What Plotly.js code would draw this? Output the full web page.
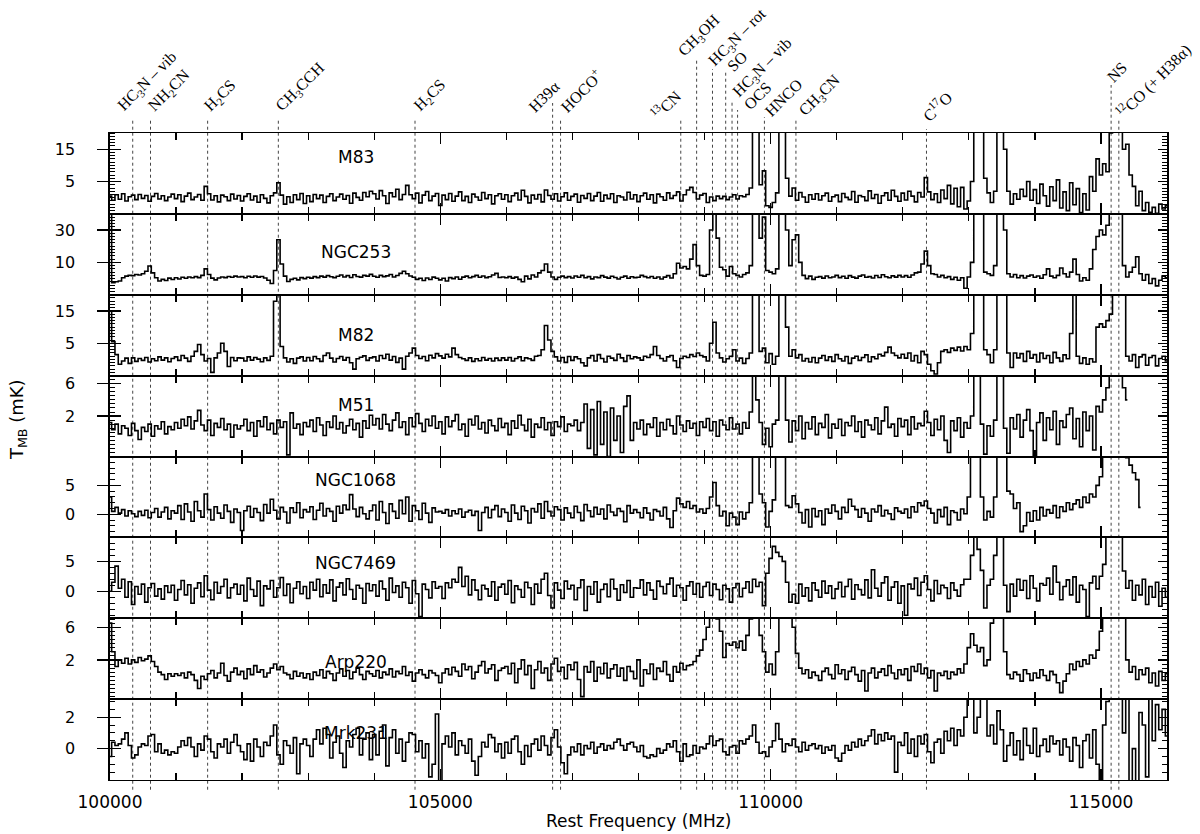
<!DOCTYPE html>
<html><head><meta charset="utf-8">
<script src="https://cdn.plot.ly/plotly-3.0.1.min.js"></script>
<style>html,body{margin:0;padding:0;background:#fff}#chart{width:1200px;height:834px}</style>
</head><body><div id="chart"></div>
<script>
// Channel grid: 100000 MHz start, 50 MHz channels
const freqStart = 100000;
const chanWidth = 50;

const m83 = [
0.5,-0.8,0.9,-0.5,1.2,-1.0,0.3,0.8,-0.6,1.0,-0.2,0.7,-1.1,0.4,1.3,-0.4,0.6,-0.9,0.2,1.1,
-0.3,0.9,-1.2,0.5,1.4,-0.6,0.2,1.0,-0.8,3.5,1.2,-0.7,0.6,-1.3,0.8,0.3,-0.9,1.1,-0.4,0.7,
-1.0,0.4,1.2,-0.7,0.5,-1.4,0.9,-0.2,-1.6,0.6,1.5,4.6,0.8,-2.0,0.3,-1.5,0.9,-0.6,1.3,-1.8,
0.6,-1.2,1.0,-0.3,0.8,-1.5,0.4,1.2,-0.9,0.2,1.1,-0.5,0.7,-1.7,1.4,0.1,-0.8,1.6,0.3,2.0,
1.2,-0.4,2.2,0.6,-1.8,1.5,0.3,2.6,-0.6,1.0,3.8,0.9,-0.3,1.4,-1.6,0.8,1.9,-0.9,0.5,1.3,
-2.4,0.8,-0.6,1.3,-1.1,0.5,1.8,-0.9,0.4,-1.5,1.1,0.2,-0.8,1.6,-0.3,0.9,-1.9,0.6,1.2,-0.5,
0.9,-1.2,0.6,1.4,-0.7,2.3,0.4,-1.6,0.8,-0.4,1.0,-1.3,2.4,0.7,-0.5,1.2,-1.0,0.3,1.5,-0.8,
0.4,1.1,-1.4,0.7,-0.2,1.3,-0.9,0.5,1.6,-1.1,0.8,-0.3,1.2,-1.5,0.6,0.2,-0.7,1.7,-0.4,0.9,
-1.2,0.6,1.4,-0.5,0.9,-1.6,1.1,0.3,-0.8,1.5,-0.2,0.7,1.8,-1.0,0.9,2.4,3.2,1.6,-0.4,0.8,
1.3,-1.5,0.2,-0.9,0.5,-0.3,0.4,-0.6,0.2,0.9,-0.4,0.6,0.3,1.0,3.0,25,30,4.0,8.3,-2.5,
-3.0,-1.5,1.5,22,35,6.0,0.5,3.0,-0.8,1.6,0.2,-1.4,0.9,-0.5,1.2,-0.7,0.6,1.4,-1.1,0.3,
0.8,-1.2,1.3,0.1,-0.6,1.9,-1.4,0.7,0.3,-0.9,2.1,-0.2,1.0,-1.7,0.6,1.5,-0.8,2.3,0.4,-1.1,
1.4,-0.7,2.0,0.5,-1.3,1.6,0.2,6.2,1.8,-0.6,1.2,-1.5,2.4,-0.3,3.8,-1.9,2.9,-2.8,3.2,-3.5,
-1.0,5.0,28,40,30,6.0,1.5,-1.5,2.0,22,40,15,2.0,-2.0,1.2,-0.5,2.6,0.4,5.0,-0.8,
2.5,-1.8,4.2,0.6,-2.6,3.4,-0.9,5.5,-3.2,1.8,-4.0,4.6,-2.2,2.8,-4.6,1.2,-3.8,6.5,2.0,12.0,
7.0,10.5,8.0,20,40,60,40,15,16.5,7.0,3.5,-2.5,2.0,-4.0,-1.5,-4.5,-3.0,-4.8,-2.0,-3.5,
-2.5];

const ngc253 = [
45,-2.5,-2.0,-1.5,0.5,1.5,2.0,1.8,2.5,2.2,3.0,4.5,7.8,3.5,0.5,-1.5,-0.5,-1.2,0.3,-0.6,
0.5,-0.3,0.8,0.2,1.0,0.5,1.2,0.6,2.0,6.0,2.5,0.3,-0.8,0.4,1.0,0.6,1.3,0.8,1.5,1.0,
1.2,0.5,1.4,0.8,1.6,0.9,1.3,0.4,-1.0,-3.0,5.0,24.0,9.0,1.5,-1.8,-0.5,0.2,-0.8,0.6,0.0,
0.8,0.3,1.2,0.6,1.5,0.9,1.8,1.1,0.6,1.4,2.2,1.0,1.8,0.7,2.4,1.3,0.9,2.0,1.5,2.6,
1.4,0.8,2.0,1.2,1.7,2.5,1.0,1.9,3.2,4.5,3.0,1.6,0.8,-0.5,0.2,-1.2,0.4,-0.6,0.9,0.2,
-0.8,0.2,-1.5,0.6,0.0,1.0,-0.4,0.9,1.5,0.5,1.2,2.0,0.8,1.6,0.6,1.1,2.2,3.2,0.7,1.0,
0.5,1.2,0.3,0.9,-0.5,-2.0,1.5,-0.2,2.2,1.0,3.5,5.0,9.0,4.0,1.0,-0.5,0.8,1.5,0.6,1.2,
0.4,1.6,0.8,2.0,0.5,1.2,-0.2,1.0,0.6,1.8,0.9,0.3,1.4,0.7,-0.3,0.8,1.5,0.2,1.1,0.6,
0.8,2.0,1.2,0.5,1.3,0.2,1.0,-0.3,0.9,1.8,0.4,3.0,9.5,6.5,7.5,6.0,12.0,21.0,8.0,2.0,
1.5,2.5,30,48,25,7.0,5.5,1.5,7.5,3.0,2.0,1.0,2.5,3.5,8.0,45,50,25,38,5.0,
4.0,3.0,6.0,45,60,30,8.0,24,27,10,2.0,0.0,1.5,-0.5,0.8,1.2,0.3,1.6,0.5,1.0,
2.0,0.6,1.4,0.2,1.8,0.9,0.3,1.5,2.2,0.8,1.2,0.4,1.9,0.7,2.4,1.1,0.5,1.7,0.9,2.0,
1.0,1.8,0.8,2.2,3.5,4.0,9.0,17.0,8.0,3.0,2.5,1.0,2.0,0.5,1.2,-0.5,0.8,-1.0,0.5,-6.0,
1.0,10,45,55,40,4.0,3.0,2.0,8.0,45,55,30,3.0,1.0,2.5,0.5,1.8,0.4,1.5,2.2,
0.8,1.6,0.2,2.4,6.0,1.5,0.5,2.0,6.5,3.0,1.0,4.0,12.0,2.5,-1.5,0.5,-1.0,6.0,18.0,26.0,
30,27,33,45,60,80,60,8.0,1.0,4.0,7.0,13.5,3.0,-1.0,2.5,-3.0,0.0,-4.5,-1.0,1.5,
0.5];

const m82 = [
15,5.5,1.5,-1.5,-0.5,0.4,-1.2,0.5,-0.6,0.3,-0.3,0.6,-0.8,0.2,-0.4,0.8,-0.2,0.5,-0.7,0.3,
0.8,-0.3,1.2,0.4,-0.6,1.0,2.5,4.6,1.5,-0.5,0.3,-4.0,0.5,2.0,5.0,2.5,-2.2,0.6,-0.4,0.5,
0.4,-0.5,0.8,-0.2,0.6,0.1,-0.7,0.5,-0.3,1.0,18.0,21.0,4.0,0.5,-0.8,0.2,-1.2,0.4,0.8,-0.5,
0.6,-0.4,0.9,0.2,-0.6,1.2,2.0,0.4,-0.8,0.3,0.9,-0.2,0.6,-1.0,-3.0,0.2,0.7,1.1,-0.3,0.5,
0.8,-0.5,1.2,0.3,1.6,-0.2,0.9,-0.9,0.4,-3.0,1.0,2.0,3.5,1.2,0.3,0.9,-0.4,1.3,0.5,1.8,
1.1,0.4,1.6,0.8,3.5,1.5,0.6,0.2,-0.3,0.5,-0.6,0.2,-0.4,0.6,-0.2,0.3,-0.5,0.4,-0.3,0.5,
-0.2,0.6,-0.5,0.3,0.8,-0.4,0.5,0.2,-0.3,1.0,1.2,3.0,10.5,6.0,2.5,0.8,-0.5,0.6,-0.9,0.9,
-0.3,0.8,0.2,-1.0,-2.0,0.5,1.2,-0.5,1.5,0.3,-0.8,1.0,0.4,-0.3,1.6,0.5,-0.6,1.2,0.2,0.8,
0.5,-0.2,1.0,0.6,1.5,4.0,1.2,0.3,-0.5,0.8,1.2,-0.4,-2.5,0.3,1.0,0.6,1.5,0.9,2.0,1.2,
0.8,-0.5,5.0,11.5,2.0,0.5,-0.8,0.2,1.0,3.0,-0.5,0.4,-1.2,0.3,2.0,30,22,2.5,3.5,-1.0,
1.8,-1.5,1.0,25,40,10,1.0,3.0,0.5,1.5,-0.5,0.3,-0.8,0.6,-1.0,0.4,1.2,-0.3,0.8,-0.6,
1.5,0.2,-0.5,0.9,-1.2,0.4,1.0,-0.3,0.6,1.4,-0.7,0.8,0.2,1.6,1.1,2.2,3.8,2.0,1.2,0.5,
1.6,0.4,2.0,-0.5,1.2,-1.0,2.5,1.5,-1.5,-3.5,-4.5,-1.0,2.5,3.0,2.2,3.5,2.8,3.8,2.6,4.0,
3.0,8.0,25,40,22,3.0,1.5,-1.0,3.0,25,40,22,2.0,-2.5,2.0,0.5,1.8,-0.6,2.5,0.4,
1.5,-0.8,2.0,0.3,1.2,-1.0,2.2,0.5,-0.6,1.4,0.2,8.0,22,1.0,-1.2,0.5,-1.5,0.2,-0.8,10.0,
11.0,10.0,12.0,14.0,30,60,40,25,1.0,-0.5,1.5,-2.5,0.8,1.5,-1.8,0.6,1.2,-2.0,0.3,1.0,
-0.5];

const m51 = [
1.2,0.3,1.0,-0.2,0.8,0.5,-0.4,1.1,0.2,-0.9,0.6,0.1,1.0,-0.5,0.8,0.4,1.3,-0.2,0.7,0.3,
1.2,0.5,1.6,0.8,1.9,0.4,1.4,2.7,0.9,0.2,1.5,-0.4,1.1,0.6,1.7,0.3,1.0,-0.6,0.9,0.4,
0.8,1.6,0.2,1.2,-0.5,1.4,0.7,1.9,0.3,1.1,-0.2,1.5,0.6,1.3,-2.8,2.4,0.5,1.0,-0.3,1.2,
0.7,1.5,0.1,1.8,0.9,-0.4,1.3,0.6,2.0,0.4,1.2,-0.1,0.8,1.6,0.3,1.1,-0.6,1.4,0.5,2.1,
0.9,1.7,0.4,2.2,1.0,0.2,1.5,2.4,0.6,1.3,-0.3,1.8,0.7,2.3,1.1,0.1,1.6,0.8,2.0,0.5,
1.3,-0.2,1.9,0.7,1.4,2.2,0.3,1.0,-0.5,1.6,0.9,2.0,0.4,1.2,-0.1,1.5,0.8,0.2,1.7,0.6,
1.1,-0.3,1.4,0.5,2.1,0.9,0.2,1.6,-0.6,1.0,0.6,1.8,0.3,1.2,-0.4,1.3,0.7,1.9,0.1,1.0,
0.8,1.5,0.2,1.2,3.5,-2.0,2.8,-2.8,3.8,-1.5,2.5,-3.0,3.0,-1.0,2.0,-2.5,3.2,4.5,-1.0,1.2,
0.4,1.5,-0.3,1.0,0.6,1.8,-0.5,1.2,0.3,1.6,0.8,-0.2,2.0,0.9,0.1,1.4,0.5,1.1,-0.4,1.3,
0.6,1.7,0.2,1.3,-0.5,1.5,0.9,0.3,1.8,0.4,1.0,-0.2,1.2,0.5,2.5,8.0,4.0,1.2,-1.5,0.5,
-1.8,1.0,1.5,8.0,8.0,1.5,-1.2,1.4,0.2,2.0,-0.8,1.2,0.4,1.9,-0.3,1.1,0.6,2.2,-0.7,1.0,
0.5,1.6,-0.4,1.2,0.8,2.0,0.1,1.3,-0.6,1.5,0.9,0.3,1.8,-0.2,1.4,3.1,0.6,1.0,-0.5,1.7,
0.7,1.5,-0.3,1.9,0.4,1.1,0.8,2.6,1.2,-0.4,1.6,0.3,2.0,-1.0,-2.5,1.4,0.2,1.8,-0.6,1.2,
0.5,2.0,8.0,8.0,1.0,-2.7,0.8,-0.5,1.5,8.0,8.0,0.5,-2.6,1.8,0.4,2.2,-0.6,1.5,2.8,0.2,
-2.9,1.2,2.4,-1.0,1.8,0.3,2.6,-1.5,1.4,0.6,2.2,3.0,-0.8,1.7,-1.8,2.5,0.2,2.0,-2.2,3.2,
2.5,4.0,5.5,8.0,8.0,8.0,8.0,5.5,4.0];

const ngc1068 = [
3.0,0.5,1.2,0.2,0.8,-0.3,0.6,0.1,-0.4,0.5,-0.2,0.7,-0.6,0.3,1.0,-0.5,0.4,1.2,-0.8,0.6,
0.2,1.5,-0.9,1.8,0.4,-1.2,2.2,0.6,-0.5,3.5,0.8,-1.0,1.3,0.2,-0.7,1.6,0.5,-1.4,0.9,0.3,
-2.8,0.6,1.4,-0.5,1.0,0.3,-1.1,1.7,0.2,2.6,0.7,-0.8,1.2,0.4,-1.5,1.1,0.3,2.0,-0.6,0.8,
0.4,1.3,-0.9,0.7,1.9,-0.3,1.0,0.5,-1.2,1.4,0.2,1.6,0.8,3.4,0.9,-0.4,1.2,0.1,-0.8,0.6,
1.6,-1.0,2.2,0.3,-1.6,1.8,0.5,-0.7,2.4,0.1,3.0,-1.2,1.5,0.6,-0.9,1.9,0.2,-1.4,1.1,0.4,
0.5,0.2,0.8,-0.3,0.6,0.1,0.9,-0.5,0.4,0.7,-0.2,0.5,-2.8,0.3,1.2,-0.6,0.8,1.5,-0.4,0.9,
0.3,-1.2,1.6,0.2,-0.9,1.4,0.6,-1.5,1.0,0.4,1.8,-0.7,2.2,0.5,-0.3,1.3,0.8,-1.0,1.1,0.2,
-0.6,1.4,0.3,-1.1,1.7,0.6,-0.4,1.2,0.0,0.9,-0.8,1.6,0.4,-0.2,1.0,0.5,-1.3,1.5,0.2,0.8,
0.3,-0.6,1.1,0.2,-1.0,0.8,0.5,-0.3,1.2,-0.8,-2.3,0.6,2.8,1.8,1.2,2.2,1.0,1.5,0.4,0.9,
0.2,1.0,3.0,5.5,1.5,-0.3,0.5,-2.0,0.2,-0.5,-1.8,0.4,-0.8,0.3,2.0,14,14,3.5,2.0,-2.2,
0.5,2.5,14,14,14,1.5,1.2,3.2,1.8,0.3,-1.5,0.8,-2.2,1.0,-0.4,0.6,-1.8,0.9,0.2,1.6,
0.5,-0.8,1.2,0.3,2.6,1.4,0.8,-0.5,1.0,0.2,-1.2,0.9,0.4,1.5,-0.3,0.7,0.1,-0.9,1.1,0.5,
0.2,0.9,-0.6,1.3,0.4,2.0,1.5,2.3,1.0,0.2,-1.5,0.8,-0.4,1.2,-1.8,0.6,0.3,-1.0,0.9,0.1,
3.0,14,14,14,3.0,-1.0,0.5,-0.5,3.0,14,14,14,4.0,3.5,1.0,2.0,-3.0,-2.0,0.3,-1.2,
0.6,-1.0,1.2,-0.3,0.8,0.2,1.5,-0.6,1.3,0.5,2.0,0.8,1.8,2.5,1.2,3.0,2.0,3.5,3.0,5.0,
6.5,14,14,14,14,14,14,14,9.8,8.5,7.2,6.0,1.2];

const ngc7469 = [
0.0,1.5,4.2,0.5,2.0,-1.0,1.6,-2.2,0.8,-0.5,1.2,-1.8,0.6,1.3,-0.8,0.4,-1.3,0.9,-0.2,1.0,
-1.5,0.3,1.8,-0.6,1.1,-2.0,0.5,1.4,-0.9,2.6,0.2,-1.4,1.5,-0.3,0.8,2.0,-1.1,0.6,1.2,-0.5,
1.0,-1.6,2.2,0.3,-0.8,1.7,-2.4,0.9,0.4,1.8,-1.0,0.6,2.3,-0.7,1.2,-1.9,0.5,1.6,-0.4,0.8,
-1.2,1.5,0.2,2.0,-0.9,1.1,-0.3,1.9,-1.6,0.7,1.4,-0.6,2.1,0.3,-1.3,1.0,0.5,-2.0,1.3,0.1,
1.1,-0.8,1.7,0.4,-1.5,2.2,-0.2,0.9,-1.0,1.5,0.6,-2.0,1.8,-0.4,-4.2,1.2,0.3,-1.1,1.6,0.5,
0.8,-1.2,1.4,0.6,2.0,1.5,4.0,0.8,2.5,-0.6,1.9,0.2,-1.4,1.0,0.4,-0.8,1.6,-1.5,0.7,1.2,
-0.5,1.8,-1.9,0.9,0.3,-1.0,1.5,0.6,-2.2,1.2,-0.3,2.0,3.0,-0.7,-2.8,1.4,0.2,-1.2,1.7,0.4,
1.0,-1.4,0.6,1.9,-3.2,0.8,-0.5,1.6,-1.8,0.3,1.2,-0.9,2.0,0.4,-1.5,1.1,-0.2,1.8,-1.0,0.6,
0.5,1.9,-0.6,1.4,0.2,-1.3,1.7,0.8,-0.4,1.2,2.2,-0.8,1.0,0.6,-1.5,0.9,1.6,-0.5,1.3,-1.0,
0.8,1.5,-0.7,1.2,0.3,-1.4,1.0,0.4,-1.8,0.6,1.3,-0.9,0.5,1.6,-0.2,2.0,0.8,1.5,-2.4,3.0,
5.5,7.5,6.5,5.8,5.0,1.5,-1.8,-0.5,-2.0,1.2,-0.8,0.6,-1.6,1.4,0.2,-1.0,1.7,-0.3,0.9,-1.2,
0.4,1.5,-0.9,0.8,2.0,-1.3,1.1,0.3,-0.6,1.9,-1.1,3.6,0.5,-0.8,1.4,2.4,-1.5,0.7,1.6,-2.0,
0.9,-4.0,1.2,0.4,2.2,-0.7,1.5,2.6,0.3,-1.6,1.8,-0.4,1.0,0.6,-1.2,1.4,0.2,-0.8,1.1,2.0,
2.0,6.0,10,7.0,3.5,-2.8,1.0,2.0,6.0,10,10,1.0,-3.4,1.2,-0.8,2.0,0.2,1.8,-1.2,2.6,
0.5,-1.6,1.3,1.0,2.2,-0.5,4.2,1.5,-1.4,0.8,1.9,-0.6,2.4,-1.8,1.0,0.3,-4.2,1.4,2.5,0.4,
2.5,4.5,12,12,12,12,12,3.4,0.5,1.8,-1.5,1.0,-0.6,2.0,-2.2,0.8,-1.0,1.5,-2.5,0.5,
-1.0];

const arp220 = [
6.5,3.0,1.2,2.0,1.6,2.2,1.5,2.0,1.7,2.3,1.9,2.1,2.5,1.8,1.2,0.5,0.2,-0.4,0.3,0.0,
0.3,0.1,0.4,-0.2,0.5,0.2,-0.5,-1.5,0.0,-0.4,0.3,0.7,-0.2,0.4,1.6,0.1,-0.6,0.5,1.0,0.2,
0.6,-0.3,0.9,0.2,1.3,0.5,0.8,-0.1,0.4,1.0,1.5,0.8,1.2,0.4,0.2,-0.3,0.6,0.0,0.4,-0.2,
0.3,-0.4,0.5,0.1,0.8,-0.2,0.6,0.3,-0.5,0.4,0.9,0.0,0.7,-0.3,0.5,1.0,0.2,-0.4,0.6,0.3,
0.0,0.7,-0.2,0.5,0.2,0.9,-0.1,0.6,0.3,1.2,0.1,0.5,-0.6,0.4,0.8,0.2,-0.2,0.7,0.4,0.1,
-0.8,0.4,0.9,0.2,1.1,0.6,0.0,1.5,0.8,1.2,-0.3,0.5,1.3,1.8,0.4,0.9,1.4,-0.5,0.7,1.0,
1.2,0.3,1.6,-0.8,0.9,2.0,0.2,1.3,-1.5,0.8,1.8,0.4,1.0,-0.5,1.5,2.2,0.6,1.1,-0.3,1.4,
0.8,1.7,-0.4,-2.5,1.2,0.5,1.8,-0.6,1.1,0.3,1.6,-0.2,0.9,1.4,0.0,1.0,-0.5,1.2,0.6,-0.3,
2.0,-1.2,0.8,0.3,1.5,-0.4,1.0,0.6,1.8,0.2,-0.6,1.2,0.5,1.6,0.8,1.3,1.4,1.8,2.5,3.2,
4.5,6.0,8.0,8.0,7.0,5.5,2.3,4.0,3.8,4.2,3.5,4.3,3.2,5.0,7.0,8.0,8.0,5.0,3.0,0.5,
1.5,0.2,3.0,8.0,8.0,8.0,8.0,6.0,2.8,1.0,0.3,0.8,-0.2,0.5,0.1,-0.5,0.6,1.0,0.2,-0.3,
1.4,0.3,0.8,-0.4,0.6,1.1,0.2,-0.6,0.7,-1.8,0.4,1.0,-0.2,0.5,0.9,0.1,1.3,0.4,-0.3,0.8,
0.2,0.9,-0.5,1.2,0.6,1.5,0.3,1.0,-0.2,0.7,-1.8,0.4,0.1,0.6,-0.3,0.5,0.2,0.9,0.4,1.5,
3.5,5.2,3.8,3.0,3.5,1.3,2.0,6.5,9.0,9.0,9.0,3.0,0.2,-0.3,0.5,0.2,-0.6,0.8,0.3,-0.5,
0.4,-0.2,0.8,0.1,-0.5,0.6,0.2,-0.8,-2.0,-0.6,0.3,1.5,0.8,1.8,1.2,2.0,1.5,2.6,2.2,3.2,
5.5,9.0,9.0,9.0,9.0,9.0,9.0,9.0,2.0,0.5,1.2,-0.4,0.8,0.2,1.0,-0.8,0.4,-1.2,0.6,-0.5,
0.3];

const mrk231 = [
-0.5,0.4,0.2,0.3,0.6,1.0,0.2,-0.6,-0.4,0.1,0.3,0.2,0.8,0.9,-0.2,0.3,-0.3,-0.1,-0.4,-0.2,
-0.3,0.1,0.5,0.2,0.7,0.1,-0.5,0.3,-0.1,0.8,0.6,-0.2,-0.6,0.3,0.1,0.6,-0.3,0.4,0.9,0.2,
-0.2,-0.7,0.3,-0.8,0.6,0.1,-0.5,0.4,0.2,0.8,1.5,-0.4,-1.0,0.5,0.2,-0.3,0.7,-1.6,0.3,0.6,
0.2,-0.5,0.6,1.2,0.3,1.3,0.9,-0.6,0.4,0.8,-0.3,-1.2,0.5,0.1,0.9,1.3,-0.4,0.6,1.0,-0.7,
0.9,-0.4,1.1,1.5,-1.1,0.7,1.2,-0.3,0.6,-0.8,0.4,1.0,0.9,-0.2,0.5,-0.6,0.3,-1.8,-1.0,2.2,
-2.5,0.3,0.8,0.1,1.0,-0.4,0.5,0.2,-0.3,0.6,-0.8,-1.7,-0.5,0.4,0.1,0.9,0.7,-0.2,0.3,-0.6,
0.4,-0.3,0.6,0.8,-0.2,-1.0,0.2,-0.5,0.3,0.6,-0.1,0.8,0.2,-0.4,0.7,1.2,0.1,-0.9,-1.6,-0.4,
0.1,-0.2,0.3,-0.4,0.2,0.0,0.4,-0.3,0.1,0.3,-0.1,0.2,0.0,0.4,0.6,0.2,-0.1,0.3,0.4,0.1,
-0.2,0.2,-0.5,-0.6,-0.4,-0.5,0.0,-0.3,-0.1,0.3,0.1,0.5,-0.2,-0.8,0.3,-0.5,-0.4,0.2,-0.3,0.1,
0.0,0.3,0.8,0.2,0.5,0.6,-0.2,-0.4,0.1,0.2,-0.3,0.5,0.3,0.6,0.8,1.5,0.4,-0.3,-0.2,-0.5,
0.1,0.5,1.6,0.6,-0.2,0.3,0.2,0.6,0.1,-0.2,0.4,-0.1,0.2,0.3,0.0,0.2,-0.3,0.1,-0.1,0.2,
-0.6,-0.8,-0.3,0.2,-0.1,0.4,0.1,0.6,0.2,0.5,0.8,1.2,0.3,0.9,0.5,1.0,0.6,0.8,-1.5,0.4,
0.2,1.0,-0.3,0.6,-0.5,0.8,0.3,0.9,-0.2,-0.9,0.4,0.6,-0.3,1.1,0.5,1.3,0.2,1.2,0.8,2.0,
3.5,4.0,1.0,2.0,4.0,4.0,0.8,1.5,0.3,2.4,1.2,-0.8,0.2,1.0,-0.4,0.5,-0.7,1.3,0.2,-0.3,
1.3,-0.5,0.2,0.6,-0.2,0.8,0.3,0.5,-0.4,0.6,0.1,-0.8,0.7,0.2,-1.2,0.5,0.9,-0.6,1.2,-1.0,
-2.5,1.5,3.0,4.0,4.0,4.0,4.0,1.0,4.0,-2.5,0.0,-2.5,2.3,1.5,-1.8,3.5,0.5,2.8,1.2,2.5,
0.8];

const galaxies = ['M83','NGC253','M82','M51','NGC1068','NGC7469','Arp220','Mrk231'];
const spectra = [m83, ngc253, m82, m51, ngc1068, ngc7469, arp220, mrk231];
const yRanges = [[-5,20],[-10,40],[-5,20],[-3,7],[-4,10],[-4.5,9],[-2.8,7.1],[-2,3.15]];
const yTickVals = [[5,15],[10,30],[5,15],[2,6],[0,5],[0,5],[2,6],[0,2]];
const yMinorStep = [1,2,1,0.5,1,1,0.5,0.5];

const lineFreqs = [100344,100613,101478,102548,104617,106700,106820,108640,108880,109120,109320,109416,109500,109906,110383,112359,115154,115271];
const lineLabels = ['HC<sub>3</sub>N – vib','NH<sub>2</sub>CN','H<sub>2</sub>CS','CH<sub>3</sub>CCH','H<sub>2</sub>CS','H39α','HOCO<sup>+</sup>',
  '<sup>13</sup>CN','CH<sub>3</sub>OH','HC<sub>3</sub>N – rot','SO','HC<sub>3</sub>N – vib','OCS','HNCO','CH<sub>3</sub>CN','C<sup>17</sup>O','NS','<sup>12</sup>CO (+ H38α)'];

// ---- layout geometry (pixels) ----
const plotTop = 133, plotBottom = 780, plotH = plotBottom - plotTop;
const py = px => (plotBottom - px) / plotH;
const lineTopPx  = [118.6,118.6,118.6,118.6,118.6,103,118.6,120,58,69,72.5,101,110,117,120,129,85,118.5];
const labelBotPx = [117,117,117,117,117,117,117,125,62,72,76,103,114,121,122,126,87,124];
const labelDx    = [-20,-7,-8,-8,-6,-29,-6,-35,-23,-9,-3,-4,2,-4,-2,-10,-9,-8];
const nameYPx = [156.7,251.7,335,405,480,563.3,661.7,733.3];
const nameFreq = 103720;

const layout = {
  width:1200, height:834,
  margin:{l:110, r:33, t:plotTop, b:834-plotBottom, pad:0},
  paper_bgcolor:'#ffffff', plot_bgcolor:'rgba(0,0,0,0)',
  showlegend:false,
  font:{family:'DejaVu Sans, sans-serif', color:'#000', size:16},
  shapes:[], annotations:[]
};
const data = [];
const n = spectra.length;
const h = 1/n;
for (let p = 0; p < n; p++) {
  const sfx = p === 0 ? '' : String(p+1);
  const dom = [1-(p+1)*h, 1-p*h];
  const isBottom = (p === n-1);
  const xa = {
    domain:[0,1], anchor:'y'+sfx, range:[100000,116000],
    tickmode:'linear', tick0:100000, dtick:5000, ticks:'inside', ticklen:11, tickwidth:1.3, tickcolor:'#000',
    minor:{ticks:'inside', ticklen:7, tickwidth:1.3, tickcolor:'#000', tickmode:'linear', tick0:100000, dtick:1000, showgrid:false},
    mirror:'ticks', showline:true, linewidth:1, linecolor:'#000',
    showgrid:false, zeroline:false, showticklabels:isBottom, tickformat:'d',
    tickfont:{size:17}, ticklabelstandoff:7
  };
  if (p > 0) xa.matches = 'x';
  layout['xaxis'+sfx] = xa;
  layout['yaxis'+sfx] = {
    domain:dom, anchor:'x'+sfx, range:yRanges[p],
    tickmode:'array', tickvals:yTickVals[p], ticktext:yTickVals[p].map(String),
    ticks:'outside', ticklen:11, tickwidth:1.3, tickcolor:'#000',
    minor:{ticks:'inside', ticklen:5, tickwidth:1, tickcolor:'#000', tickmode:'linear', tick0:0, dtick:yMinorStep[p], showgrid:false},
    showline:true, linewidth:1.6, linecolor:'#000', mirror:true,
    showgrid:false, zeroline:false, tickfont:{size:16}, ticklabelstandoff:19
  };
  const idL = p + 9, idR = p + 17;
  layout['yaxis'+idL] = {
    overlaying:'y'+sfx, anchor:'x'+sfx, side:'left', range:yRanges[p],
    tickmode:'array', tickvals:yTickVals[p], ticks:'inside', ticklen:11, tickwidth:1.3, tickcolor:'#000',
    showticklabels:false, showline:false, showgrid:false, zeroline:false
  };
  layout['yaxis'+idR] = {
    overlaying:'y'+sfx, anchor:'x'+sfx, side:'right', range:yRanges[p],
    tickmode:'array', tickvals:yTickVals[p], ticks:'inside', ticklen:9, tickwidth:1.3, tickcolor:'#000',
    minor:{ticks:'inside', ticklen:5, tickwidth:1, tickcolor:'#000', tickmode:'linear', tick0:0, dtick:yMinorStep[p], showgrid:false},
    showticklabels:false, showline:false, showgrid:false, zeroline:false
  };
  const vals = spectra[p];
  data.push({
    type:'scatter', mode:'lines',
    x: vals.map((_, i) => freqStart + chanWidth*i), y: vals,
    xaxis:'x'+sfx, yaxis:'y'+sfx,
    line:{color:'#000', width:1.6, shape:'hvh'}, hoverinfo:'skip'
  });
  data.push({type:'scatter', mode:'lines', x:[], y:[], xaxis:'x'+sfx, yaxis:'y'+idL, hoverinfo:'skip'});
  data.push({type:'scatter', mode:'lines', x:[], y:[], xaxis:'x'+sfx, yaxis:'y'+idR, hoverinfo:'skip'});
  layout.annotations.push({
    xref:'x', yref:'paper', x:nameFreq, y:py(nameYPx[p]), text:galaxies[p],
    showarrow:false, xanchor:'center', yanchor:'middle',
    font:{family:'DejaVu Sans, sans-serif', size:17, color:'#000'}
  });
}

lineFreqs.forEach((f, i) => {
  layout.shapes.push({
    type:'line', xref:'x', yref:'paper', x0:f, x1:f, y0:-0.015, y1:py(lineTopPx[i]),
    line:{color:'#444', width:1, dash:'dot'}, layer:'below'
  });
  layout.annotations.push({
    xref:'x', yref:'paper', x:f, xshift:labelDx[i], y:py(labelBotPx[i]),
    text:lineLabels[i], textangle:-45, xanchor:'left', yanchor:'bottom', showarrow:false,
    borderpad:0, font:{family:'Liberation Serif, Times New Roman, serif', size:16, color:'#000'}
  });
});

layout.annotations.push({
  xref:'paper', yref:'paper', x:0.5, y:py(821), text:'Rest Frequency (MHz)',
  showarrow:false, xanchor:'center', yanchor:'middle', font:{size:17}
});
layout.annotations.push({
  xref:'paper', yref:'paper', x:(18-110)/1057, y:py(420), text:'T<sub>MB</sub> (mK)',
  textangle:-90, showarrow:false, xanchor:'center', yanchor:'middle', font:{size:18}
});

Plotly.newPlot('chart', data, layout, {displayModeBar:false, staticPlot:true});
</script>
</body></html>
